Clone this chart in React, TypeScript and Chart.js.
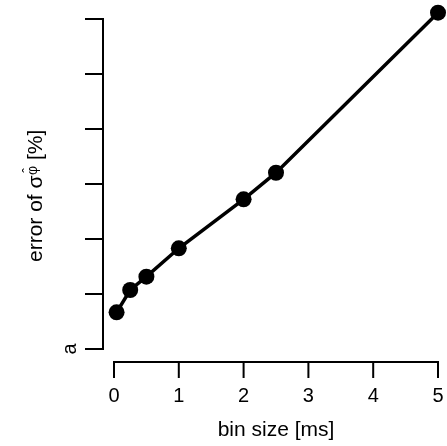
import { useEffect, useRef } from 'react';
import { Chart, registerables } from 'chart.js';

Chart.register(...registerables);

// ---- data ----
const binSizes = [0.04, 0.25, 0.5, 1, 2, 2.5, 5];
const errorValues = [0.667, 1.073, 1.315, 1.831, 2.722, 3.205, 6.115];
const xTicks = [0, 1, 2, 3, 4, 5];
const yTicks = [0, 1, 2, 3, 4, 5, 6];
const yTickLabels = ['a', '', '', '', '', '', ''];
const xTitle = 'bin size [ms]';
const yTitleMain = 'error of σ';
const yTitleSub = 'φ';
const yTitleHat = 'ˆ';
const yTitleEnd = ' [%]';

const FONT = '"Liberation Sans", Arial, Helvetica, sans-serif';

const zeroPadding = (s: any) => {
  s.paddingTop = 0;
  s.paddingBottom = 0;
  s.paddingLeft = 0;
  s.paddingRight = 0;
};

const detachedAxes = {
  id: 'detachedAxes',
  afterDraw(chart: any) {
    const { ctx, chartArea, scales } = chart;
    const xs = scales.x;
    const ys = scales.y;
    ctx.save();
    ctx.strokeStyle = '#000';
    ctx.lineWidth = 2;
    ctx.lineCap = 'butt';

    // y axis (detached to the left)
    const yAxisX = chartArea.left - 11;
    const yTop = ys.getPixelForValue(yTicks[yTicks.length - 1]);
    const yBot = ys.getPixelForValue(yTicks[0]);
    ctx.beginPath();
    ctx.moveTo(yAxisX, yTop - 1);
    ctx.lineTo(yAxisX, yBot + 1);
    for (const v of yTicks) {
      const py = ys.getPixelForValue(v);
      ctx.moveTo(yAxisX + 1, py);
      ctx.lineTo(yAxisX - 18, py);
    }
    ctx.stroke();

    // x axis (detached below)
    const xAxisY = chartArea.bottom + 13;
    const xL = xs.getPixelForValue(xTicks[0]);
    const xR = xs.getPixelForValue(xTicks[xTicks.length - 1]);
    ctx.beginPath();
    ctx.moveTo(xL - 1, xAxisY);
    ctx.lineTo(xR + 1, xAxisY);
    for (const v of xTicks) {
      const px = xs.getPixelForValue(v);
      ctx.moveTo(px, xAxisY - 1);
      ctx.lineTo(px, xAxisY + 16);
    }
    ctx.stroke();

    // y title, rotated, with raised small phi and hat
    ctx.fillStyle = '#000';
    ctx.translate(42, 262);
    ctx.rotate(-Math.PI / 2);
    ctx.textBaseline = 'alphabetic';
    ctx.textAlign = 'left';
    ctx.font = `21px ${FONT}`;
    ctx.fillText(yTitleMain, 0, 0);
    let pos = ctx.measureText(yTitleMain).width + 0.5;
    ctx.font = `14px ${FONT}`;
    const wPhi = ctx.measureText(yTitleSub).width;
    ctx.fillText(yTitleSub, pos, -5);
    ctx.textAlign = 'center';
    ctx.fillText(yTitleHat, pos + wPhi / 2, -9);
    ctx.textAlign = 'left';
    pos += wPhi;
    ctx.font = `21px ${FONT}`;
    ctx.fillText(yTitleEnd, pos, 0);
    ctx.restore();
  },
};

export default function App() {
  const ref = useRef<HTMLCanvasElement | null>(null);

  useEffect(() => {
    document.body.style.margin = '0';
    const canvas = ref.current;
    if (!canvas) return;
    const chart = new Chart(canvas, {
      type: 'line',
      data: {
        datasets: [
          {
            data: binSizes.map((b, i) => ({ x: b, y: errorValues[i] })),
            borderColor: '#000',
            backgroundColor: '#000',
            borderWidth: 3.5,
            pointRadius: 8,
            pointHoverRadius: 8,
            pointBackgroundColor: '#000',
            pointBorderWidth: 0,
            tension: 0,
            clip: false as any,
          },
        ],
      },
      options: {
        animation: false,
        responsive: true,
        maintainAspectRatio: false,
        events: [],
        layout: { padding: { top: 19, right: 9, bottom: 0, left: 0 } },
        plugins: {
          legend: { display: false },
          tooltip: { enabled: false },
        },
        scales: {
          x: {
            type: 'linear',
            min: xTicks[0],
            max: xTicks[xTicks.length - 1],
            grid: { display: false, drawTicks: false },
            border: { display: false },
            afterFit: (s: any) => {
              s.height = 97;
              zeroPadding(s);
            },
            ticks: {
              stepSize: 1,
              autoSkip: false,
              padding: 35,
              color: '#000',
              font: { family: FONT, size: 20 },
              maxRotation: 0,
              minRotation: 0,
            },
            title: {
              display: true,
              text: xTitle,
              color: '#000',
              font: { family: FONT, size: 21 },
              padding: { top: 0, bottom: 3 },
            },
          },
          y: {
            type: 'linear',
            min: yTicks[0],
            max: yTicks[yTicks.length - 1],
            grid: { display: false, drawTicks: false },
            border: { display: false },
            afterFit: (s: any) => {
              s.width = 114;
              zeroPadding(s);
            },
            ticks: {
              stepSize: 1,
              autoSkip: false,
              padding: 44,
              labelOffset: -5.5,
              minRotation: 90,
              maxRotation: 90,
              color: '#000',
              font: { family: FONT, size: 20 },
              callback: (v: any) => {
                const i = yTicks.indexOf(Number(v));
                return i >= 0 ? yTickLabels[i] : '';
              },
            },
          },
        },
      },
      plugins: [detachedAxes],
    });
    return () => chart.destroy();
  }, []);

  return (
    <div style={{ position: 'relative', width: 447, height: 446 }}>
      <canvas ref={ref} />
    </div>
  );
}
